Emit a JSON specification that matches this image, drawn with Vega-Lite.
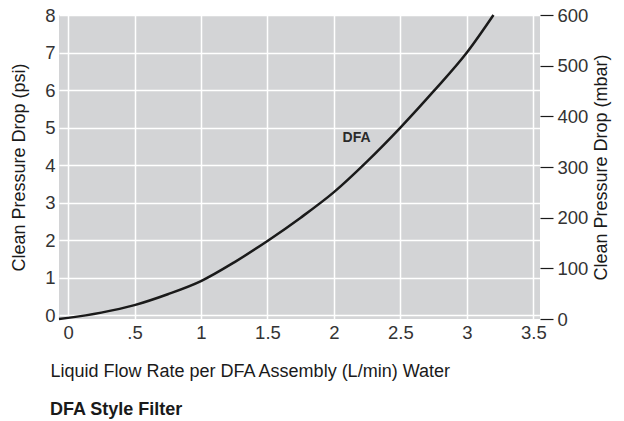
{
  "$schema": "https://vega.github.io/schema/vega-lite/v6.json",
  "padding": {"left": 10, "top": 6, "right": 5, "bottom": 5},
  "config": {
    "view": {"fill": "#d3d4d6", "stroke": null},
    "font": "Liberation Sans"
  },
  "title": {
    "text": "DFA Style Filter",
    "orient": "bottom",
    "anchor": "start",
    "frame": "group",
    "dx": -9,
    "offset": 20,
    "font": "Liberation Sans",
    "fontSize": 18,
    "fontWeight": "bold",
    "color": "#1a1a1a"
  },
  "width": 481,
  "height": 304,
  "layer": [
    {
      "encoding": {
        "x": {
          "field": "q",
          "type": "quantitative",
          "scale": {"domain": [-0.068, 3.55], "nice": false, "zero": false},
          "axis": {
            "values": [0, 0.5, 1, 1.5, 2, 2.5, 3, 3.5],
            "labelExpr": "datum.value == 0.5 ? '.5' : format(datum.value, '~g')",
            "labelFont": "Liberation Sans",
            "labelFontSize": 18.5,
            "labelColor": "#333333",
            "labelOverlap": false,
            "labelFlush": false,
            "domain": false,
            "gridColor": "#ffffff",
            "gridWidth": 1.5,
            "gridOpacity": 1,
            "ticks": false,
            "labelPadding": 4,
            "labelDx": -2,
            "title": "Liquid Flow Rate per DFA Assembly (L/min) Water",
            "titleFont": "Liberation Sans",
            "titleFontSize": 18,
            "titleFontWeight": "normal",
            "titleColor": "#1a1a1a",
            "titleAnchor": "start",
            "titleAlign": "left",
            "titleX": -9,
            "titlePadding": 21
          }
        },
        "y": {
          "field": "psi",
          "type": "quantitative",
          "scale": {"domain": [-0.1, 8], "nice": false, "zero": false},
          "axis": {
            "orient": "left",
            "values": [0, 1, 2, 3, 4, 5, 6, 7, 8],
            "labelFont": "Liberation Sans",
            "labelFontSize": 18.5,
            "labelColor": "#333333",
            "labelOverlap": false,
            "labelFlush": false,
            "domain": false,
            "gridColor": "#ffffff",
            "gridWidth": 1.5,
            "gridOpacity": 1,
            "ticks": false,
            "labelPadding": 4,
            "title": "Clean Pressure Drop (psi)",
            "titleFont": "Liberation Sans",
            "titleFontSize": 18,
            "titleFontWeight": "normal",
            "titleColor": "#1a1a1a",
            "titlePadding": 16
          }
        }
      },
      "layer": [
        {
          "data": {
            "values": [
              {"q": -0.068, "psi": -0.1},
              {"q": 0, "psi": -0.07},
              {"q": 0.25, "psi": 0.07},
              {"q": 0.5, "psi": 0.27},
              {"q": 0.75, "psi": 0.56},
              {"q": 1.0, "psi": 0.91},
              {"q": 1.25, "psi": 1.41},
              {"q": 1.5, "psi": 1.98},
              {"q": 1.75, "psi": 2.6},
              {"q": 2.0, "psi": 3.28},
              {"q": 2.25, "psi": 4.1},
              {"q": 2.5, "psi": 5.0},
              {"q": 2.75, "psi": 5.97},
              {"q": 3.0, "psi": 7.0},
              {"q": 3.2, "psi": 8.0}
            ]
          },
          "mark": {"type": "line", "interpolate": "monotone", "color": "#1a1a1a", "strokeWidth": 2.5}
        },
        {
          "data": {"values": [{"q": 2.17, "psi": 4.72, "label": "DFA"}]},
          "mark": {"type": "text", "font": "Liberation Sans", "fontSize": 14, "fontWeight": "bold", "color": "#2a2a2a"},
          "encoding": {
            "text": {"field": "label"}
          }
        }
      ]
    },
    {
      "data": {"values": [{"mbar": 0}, {"mbar": 600}]},
      "mark": {"type": "tick", "opacity": 0},
      "encoding": {
        "y": {
          "field": "mbar",
          "type": "quantitative",
          "scale": {"domain": [0, 600], "nice": false},
          "axis": {
            "orient": "right",
            "values": [0, 100, 200, 300, 400, 500, 600],
            "labelFont": "Liberation Sans",
            "labelFontSize": 18.5,
            "labelColor": "#333333",
            "labelOverlap": false,
            "labelFlush": false,
            "domain": false,
            "grid": false,
            "ticks": true,
            "tickSize": 13,
            "tickColor": "#1a1a1a",
            "tickWidth": 1.2,
            "labelPadding": 4,
            "title": "Clean Pressure Drop (mbar)",
            "titleFont": "Liberation Sans",
            "titleFontSize": 18,
            "titleFontWeight": "normal",
            "titleColor": "#1a1a1a",
            "titleAngle": 270,
            "titleBaseline": "top",
            "titlePadding": 5
          }
        }
      }
    }
  ],
  "resolve": {"scale": {"y": "independent"}}
}
